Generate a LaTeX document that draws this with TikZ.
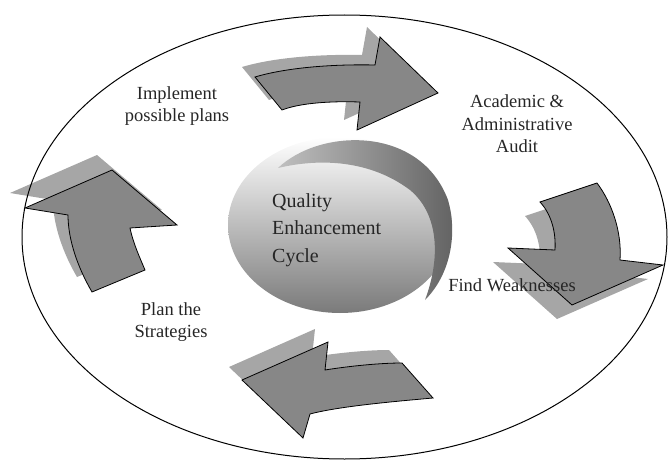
\documentclass[tikz,border=0pt]{standalone}
\usepackage{fontspec}
\setmainfont{Liberation Serif}
\usetikzlibrary{calc}
\colorlet{arrowgray}{black!47}
\colorlet{shadowgray}{black!35}
\colorlet{textgray}{black!85}
\tikzset{
  arrowbody/.style={fill=arrowgray, draw=black, line width=0.8pt, line join=miter},
  arrowshadow/.style={fill=shadowgray},
  steptext/.style={text=textgray, align=center, inner sep=0pt, font=\fontsize{18.5}{21.5}\selectfont},
}
% shadow first, then the outlined arrow on top
\newcommand{\cyclearrow}[2]{%
  \fill[arrowshadow, shift={#1}] #2;
  \filldraw[arrowbody] #2;
}

\begin{document}
\begin{tikzpicture}[x=1pt, y=-1pt]
            \useasboundingbox (0,0) rectangle (670,460);
            % coordinates
            \coordinate (centre) at (344.5,237); % outer ellipse centre
            \coordinate (blob) at (340,225); % centre of the round blob

            % arrows: top, right, bottom, left
            \cyclearrow{(-13,-10)}{(255,77) .. controls (285,68) and (330,64) .. (375,65) -- (380,37) -- (438,93) -- (357,130) -- (360,102) .. controls (330,101) and (300,103) .. (282,110) -- cycle}
            \cyclearrow{(-15,14)}{(540,202) -- (597,183) .. controls (612,203) and (622,232) .. (620,260) -- (663,265) -- (572,305) -- (508,248) -- (555,250) .. controls (556,233) and (552,215) .. (540,202) -- cycle}
            \cyclearrow{(-13,-13)}{(242,380) -- (328,342) -- (325,370) .. controls (350,366) and (380,363) .. (402,363) -- (433,398) .. controls (400,401) and (340,406) .. (310,414) -- (303,438) -- cycle}
            \cyclearrow{(-15,-15)}{(25,208) -- (112,170) -- (177,225) -- (130,228) .. controls (133,243) and (140,258) .. (145,270) -- (92,292) .. controls (78,268) and (68,240) .. (68,215) -- cycle}

            % round blob with its dark crescent
            \shade[top color=white, middle color=black!20, bottom color=black!52] (blob) ellipse [x radius=112, y radius=88];
            \shade[left color=black!25, right color=black!62]
            (278,168) .. controls (320,128) and (420,125) .. (448,200)
            .. controls (458,235) and (450,275) .. (425,300)
            .. controls (440,260) and (440,215) .. (410,190)
            .. controls (370,160) and (320,158) .. (278,168) -- cycle;

            % texts
            \node[text=textgray, align=left, anchor=west, inner sep=0pt,
                  font=\fontsize{20}{27.5}\selectfont] (qec) at (272,230) {Quality\\Enhancement\\Cycle};
            \node[steptext] (implement) at (177,106) {Implement\\possible plans};
            \node[steptext, font=\fontsize{18.5}{22.5}\selectfont] (audit) at (517,124) {Academic \&\\Administrative\\Audit};
            \node[steptext] (weak) at (512,285) {Find Weaknesses};
            \node[steptext] (plan) at (171,322) {Plan the\\Strategies};

            % outer ellipse
            \draw[line width=1pt] (centre) ellipse [x radius=322.5, y radius=222];
\end{tikzpicture}
\end{document}
